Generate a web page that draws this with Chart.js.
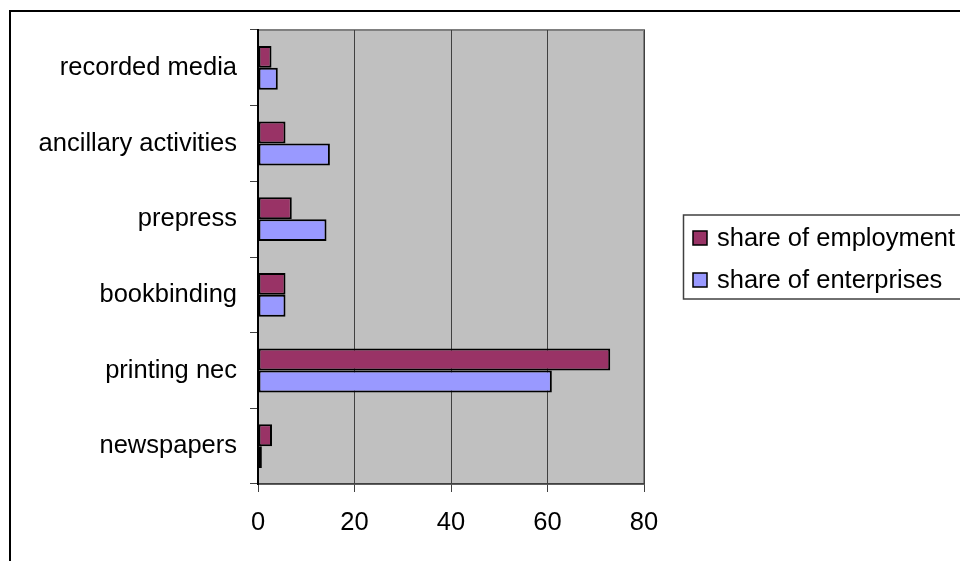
<!DOCTYPE html>
<html>
<head>
<meta charset="utf-8">
<title>Printing sector shares</title>
<script src="https://cdn.jsdelivr.net/npm/chart.js@4/dist/chart.umd.min.js"></script>
<style>
    html, body { margin: 0; padding: 0; background: #fff; }
    #wrap { width: 960px; height: 561px; position: relative; }
</style>
</head>
<body>
<div id="wrap"><canvas id="chart" width="960" height="561"></canvas></div>
<script>
// ========================================
// DATA
// ========================================
const categories = ['recorded media', 'ancillary activities', 'prepress', 'bookbinding', 'printing nec', 'newspapers'];
const seriesNames = ['share of employment', 'share of enterprises'];
const shareEmployment = [2.8, 5.7, 7.0, 5.7, 73.0, 2.9];
const shareEnterprises = [4.1, 14.9, 14.2, 5.7, 60.9, 0.8];
const xTicks = [0, 20, 40, 60, 80];

const FONT = { family: '"Liberation Sans", Arial, sans-serif', size: 25.5 };

// ========================================
// PLUGINS
// ========================================
const frame = {
    id: 'frame',
    beforeDraw(chart) {
        const ctx = chart.ctx;
        const a = chart.chartArea;
        ctx.save();
        ctx.fillStyle = '#fff';
        ctx.fillRect(0, 0, chart.width, chart.height);
        // outer chart border (cut at right and bottom)
        ctx.strokeStyle = '#000';
        ctx.lineWidth = 2;
        ctx.strokeRect(10, 11, 1000, 600);
        // plot area
        ctx.fillStyle = '#c0c0c0';
        ctx.fillRect(a.left, a.top, a.right - a.left, a.bottom - a.top);
        ctx.strokeStyle = '#808080';
        ctx.lineWidth = 2;
        ctx.strokeRect(a.left, a.top, a.right - a.left, a.bottom - a.top);
        ctx.restore();
    },
    afterDraw(chart) {
        const ctx = chart.ctx;
        ctx.save();
        // legend box
        ctx.strokeStyle = '#404040';
        ctx.lineWidth = 1.5;
        ctx.strokeRect(683.5, 215, 400, 84);
        ctx.font = FONT.size + 'px ' + FONT.family;
        ctx.textBaseline = 'middle';
        ctx.textAlign = 'left';
        chart.data.datasets.forEach((ds, i) => {
            const cy = 238 + i * 42;
            ctx.fillStyle = ds.backgroundColor;
            ctx.fillRect(693, cy - 7, 14, 14);
            ctx.strokeStyle = '#000';
            ctx.lineWidth = 1.5;
            ctx.strokeRect(693, cy - 7, 14, 14);
            ctx.fillStyle = '#000';
            ctx.fillText(ds.label, 717, cy + 1);
        });
        ctx.restore();
    }
};

// ========================================
// CHART
// ========================================
new Chart(document.getElementById('chart'), {
    type: 'bar',
    data: {
        labels: categories,
        datasets: [{
            label: seriesNames[0],
            data: shareEmployment,
            backgroundColor: '#993366',
            borderColor: '#000',
            borderWidth: 2,
            borderSkipped: false
        }, {
            label: seriesNames[1],
            data: shareEnterprises,
            backgroundColor: '#9999ff',
            borderColor: '#000',
            borderWidth: 2,
            borderSkipped: false
        }]
    },
    options: {
        indexAxis: 'y',
        responsive: false,
        animation: false,
        datasets: { bar: { categoryPercentage: 0.58, barPercentage: 1.0 } },
        layout: { padding: { left: 0, top: 30, right: 316, bottom: 0 } },
        scales: {
            x: {
                min: 0,
                max: 80,
                afterBuildTicks(scale) { scale.ticks = xTicks.map(v => ({ value: v })); },
                afterFit(scale) { scale.height = 77; },
                grid: { color: '#404040', lineWidth: 1, tickLength: 8, drawTicks: true },
                border: { color: '#404040', width: 1.5 },
                ticks: { color: '#000', font: FONT, padding: 16, maxRotation: 0 }
            },
            y: {
                afterFit(scale) { scale.width = 258; },
                grid: { drawOnChartArea: false, color: '#404040', tickLength: 8, offset: true },
                border: { color: '#000', width: 2 },
                ticks: { color: '#000', font: FONT, padding: 13 }
            }
        },
        plugins: {
            legend: { display: false },
            tooltip: { enabled: false }
        }
    },
    plugins: [frame]
});
</script>
</body>
</html>
